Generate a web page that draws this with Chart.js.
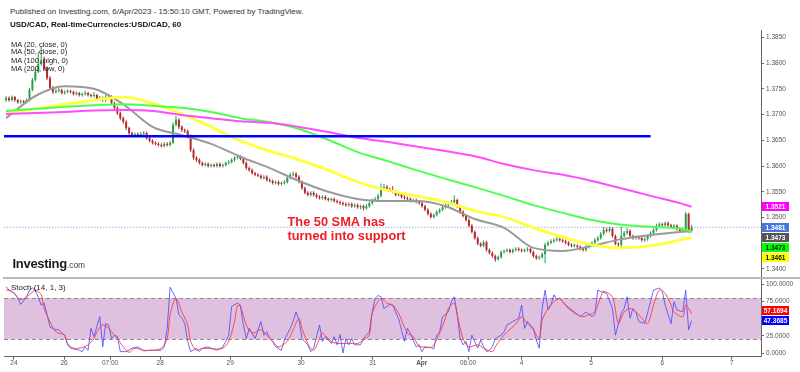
<!DOCTYPE html>
<html>
<head>
<meta charset="utf-8">
<script src="https://cdn.jsdelivr.net/npm/chart.js@4.4.0/dist/chart.umd.min.js"></script>
<style>
  html, body { margin: 0; padding: 0; background: #fff; }
  body { width: 800px; height: 372px; position: relative; overflow: hidden; font-family: "Liberation Sans", Arial, sans-serif; }
  .txt { position: absolute; white-space: nowrap; color: #222; }
  canvas { position: absolute; left: 0; }
  #main { top: 30px; }
  #stoch { top: 278px; }
  #sep { position: absolute; left: 3px; top: 277px; width: 797px; height: 2px; background: #b8b8b8; }
</style>
</head>
<body>
<canvas id="main" width="800" height="248"></canvas>
<canvas id="stoch" width="800" height="94"></canvas>
<div id="sep"></div>

<div class="txt" style="left:10px; top:6.5px; font-size:8px; line-height:10px; color:#333;">Published on Investing.com, 6/Apr/2023 - 15:50:10 GMT, Powered by TradingView.</div>
<div class="txt" style="left:10px; top:20px; font-size:8px; line-height:10px; font-weight:bold; color:#111;">USD/CAD, Real-timeCurrencies:USD/CAD, 60</div>

<div class="txt" style="left:11px; top:40.8px; font-size:7.5px; line-height:8px;">MA (20, close, 0)</div>
<div class="txt" style="left:11px; top:48.4px; font-size:7.5px; line-height:8px;">MA (50, close, 0)</div>
<div class="txt" style="left:11px; top:57px; font-size:7.5px; line-height:8px;">MA (100, high, 0)</div>
<div class="txt" style="left:11px; top:65px; font-size:7.5px; line-height:8px;">MA (200, low, 0)</div>

<div class="txt" style="left:287.5px; top:215px; font-size:12.8px; line-height:14.4px; font-weight:bold; color:#ee1c25;">The 50 SMA has<br>turned into support</div>

<div class="txt" style="left:12.5px; top:256.7px; font-size:13px; line-height:13px; font-weight:bold; color:#1a1a1a; letter-spacing:-0.3px;">Investing<span style="font-size:8.4px; font-weight:normal; color:#444; letter-spacing:0;">.com</span></div>

<div class="txt" style="left:11px; top:283px; font-size:8px; line-height:10px;">Stoch (14, 1, 3)</div>

<script>
// ---- hourly candles, Mar 24 - Apr 6 (bar index = hour slot) ----
const opens = [
  1.3728, 1.3732, 1.3728, 1.3734, 1.3728, 1.3724, 1.3726, 1.3724, 1.3728, 1.3748,
  1.3767, 1.3783, 1.3798, 1.3806, 1.3790, 1.3771, 1.3752, 1.3744, 1.3746, 1.3748,
  1.3742, 1.3744, 1.3746, 1.3744, 1.3740, 1.3742, 1.3738, 1.3740, 1.3742, 1.3738,
  1.3736, 1.3738, 1.3730, 1.3732, 1.3728, 1.3732, 1.3734, 1.3722, 1.3713, 1.3703,
  1.3693, 1.3686, 1.3674, 1.3664, 1.3660, 1.3662, 1.3660, 1.3662, 1.3664, 1.3654,
  1.3649, 1.3645, 1.3643, 1.3641, 1.3639, 1.3643, 1.3641, 1.3645, 1.3680, 1.3690,
  1.3676, 1.3670, 1.3668, 1.3658, 1.3631, 1.3616, 1.3612, 1.3606, 1.3602, 1.3604,
  1.3600, 1.3602, 1.3600, 1.3604, 1.3600, 1.3602, 1.3606, 1.3608, 1.3612, 1.3616,
  1.3618, 1.3614, 1.3606, 1.3596, 1.3592, 1.3586, 1.3583, 1.3581, 1.3577, 1.3579,
  1.3573, 1.3571, 1.3567, 1.3569, 1.3565, 1.3567, 1.3569, 1.3577, 1.3583, 1.3585,
  1.3579, 1.3569, 1.3557, 1.3548, 1.3544, 1.3548, 1.3544, 1.3540, 1.3538, 1.3540,
  1.3536, 1.3534, 1.3536, 1.3532, 1.3530, 1.3528, 1.3526, 1.3524, 1.3526, 1.3522,
  1.3524, 1.3520, 1.3522, 1.3518, 1.3522, 1.3528, 1.3534, 1.3536, 1.3542, 1.3557,
  1.3559, 1.3555, 1.3553, 1.3550, 1.3544, 1.3546, 1.3540, 1.3538, 1.3536, 1.3532,
  1.3534, 1.3530, 1.3528, 1.3522, 1.3515, 1.3507, 1.3501, 1.3505, 1.3511, 1.3515,
  1.3520, 1.3524, 1.3528, 1.3530, 1.3534, 1.3522, 1.3511, 1.3503, 1.3495, 1.3484,
  1.3472, 1.3460, 1.3449, 1.3445, 1.3452, 1.3437, 1.3431, 1.3425, 1.3419, 1.3423,
  1.3433, 1.3435, 1.3437, 1.3433, 1.3437, 1.3439, 1.3437, 1.3435, 1.3437, 1.3439,
  1.3433, 1.3425, 1.3421, 1.3423, 1.3429, 1.3447, 1.3451, 1.3454, 1.3456, 1.3458,
  1.3456, 1.3454, 1.3451, 1.3447, 1.3445, 1.3445, 1.3443, 1.3439, 1.3437, 1.3443,
  1.3447, 1.3451, 1.3456, 1.3460, 1.3468, 1.3476, 1.3474, 1.3478, 1.3464, 1.3449,
  1.3447, 1.3464, 1.3470, 1.3474, 1.3464, 1.3460, 1.3462, 1.3460, 1.3456, 1.3458,
  1.3464, 1.3470, 1.3476, 1.3484, 1.3487, 1.3485, 1.3489, 1.3485, 1.3482, 1.3484,
  1.3478, 1.3474, 1.3476, 1.3507, 1.3474
];
const highs = [
  1.3736, 1.3735, 1.3737, 1.3736, 1.3730, 1.3729, 1.3728, 1.3731, 1.3752, 1.3771,
  1.3790, 1.3822, 1.3832, 1.3812, 1.3794, 1.3775, 1.3756, 1.3750, 1.3752, 1.3750,
  1.3747, 1.3749, 1.3748, 1.3746, 1.3745, 1.3744, 1.3743, 1.3746, 1.3744, 1.3741,
  1.3744, 1.3740, 1.3736, 1.3735, 1.3738, 1.3740, 1.3737, 1.3725, 1.3716, 1.3706,
  1.3696, 1.3689, 1.3677, 1.3667, 1.3665, 1.3665, 1.3666, 1.3668, 1.3667, 1.3657,
  1.3652, 1.3648, 1.3646, 1.3644, 1.3646, 1.3646, 1.3649, 1.3685, 1.3697, 1.3693,
  1.3679, 1.3673, 1.3671, 1.3661, 1.3634, 1.3619, 1.3615, 1.3609, 1.3607, 1.3607,
  1.3605, 1.3605, 1.3607, 1.3607, 1.3605, 1.3609, 1.3611, 1.3615, 1.3619, 1.3622,
  1.3621, 1.3617, 1.3609, 1.3599, 1.3595, 1.3589, 1.3586, 1.3584, 1.3582, 1.3582,
  1.3576, 1.3574, 1.3572, 1.3572, 1.3570, 1.3573, 1.3580, 1.3587, 1.3589, 1.3588,
  1.3582, 1.3572, 1.3560, 1.3551, 1.3551, 1.3551, 1.3547, 1.3543, 1.3543, 1.3543,
  1.3539, 1.3539, 1.3539, 1.3535, 1.3533, 1.3531, 1.3529, 1.3529, 1.3529, 1.3527,
  1.3527, 1.3525, 1.3525, 1.3526, 1.3531, 1.3537, 1.3540, 1.3546, 1.3566, 1.3565,
  1.3563, 1.3558, 1.3561, 1.3553, 1.3550, 1.3549, 1.3543, 1.3541, 1.3539, 1.3537,
  1.3537, 1.3533, 1.3531, 1.3525, 1.3518, 1.3510, 1.3508, 1.3514, 1.3518, 1.3523,
  1.3527, 1.3531, 1.3534, 1.3543, 1.3537, 1.3525, 1.3514, 1.3506, 1.3498, 1.3487,
  1.3475, 1.3463, 1.3452, 1.3456, 1.3455, 1.3440, 1.3434, 1.3428, 1.3426, 1.3436,
  1.3438, 1.3440, 1.3440, 1.3440, 1.3442, 1.3442, 1.3440, 1.3440, 1.3442, 1.3442,
  1.3436, 1.3428, 1.3426, 1.3432, 1.3451, 1.3455, 1.3458, 1.3460, 1.3462, 1.3461,
  1.3459, 1.3457, 1.3454, 1.3450, 1.3449, 1.3448, 1.3446, 1.3442, 1.3446, 1.3450,
  1.3454, 1.3460, 1.3464, 1.3472, 1.3482, 1.3480, 1.3482, 1.3481, 1.3467, 1.3452,
  1.3482, 1.3474, 1.3480, 1.3477, 1.3467, 1.3465, 1.3465, 1.3463, 1.3461, 1.3467,
  1.3473, 1.3479, 1.3488, 1.3491, 1.3490, 1.3492, 1.3492, 1.3488, 1.3488, 1.3487,
  1.3481, 1.3480, 1.3511, 1.3509, 1.3486
];
const lows = [
  1.3725, 1.3725, 1.3726, 1.3725, 1.3721, 1.3721, 1.3720, 1.3722, 1.3726, 1.3745,
  1.3764, 1.3780, 1.3795, 1.3786, 1.3767, 1.3748, 1.3740, 1.3741, 1.3743, 1.3739,
  1.3739, 1.3741, 1.3741, 1.3737, 1.3737, 1.3735, 1.3735, 1.3737, 1.3735, 1.3733,
  1.3733, 1.3727, 1.3727, 1.3725, 1.3725, 1.3729, 1.3719, 1.3709, 1.3699, 1.3689,
  1.3682, 1.3670, 1.3660, 1.3657, 1.3657, 1.3657, 1.3657, 1.3659, 1.3651, 1.3646,
  1.3642, 1.3640, 1.3638, 1.3636, 1.3636, 1.3638, 1.3638, 1.3643, 1.3677, 1.3672,
  1.3666, 1.3664, 1.3654, 1.3627, 1.3612, 1.3608, 1.3603, 1.3599, 1.3599, 1.3597,
  1.3597, 1.3597, 1.3597, 1.3597, 1.3597, 1.3599, 1.3603, 1.3605, 1.3609, 1.3613,
  1.3611, 1.3603, 1.3593, 1.3589, 1.3583, 1.3580, 1.3578, 1.3574, 1.3574, 1.3570,
  1.3568, 1.3564, 1.3564, 1.3562, 1.3562, 1.3564, 1.3566, 1.3574, 1.3580, 1.3576,
  1.3566, 1.3554, 1.3545, 1.3541, 1.3541, 1.3541, 1.3537, 1.3535, 1.3535, 1.3533,
  1.3531, 1.3531, 1.3529, 1.3527, 1.3525, 1.3523, 1.3521, 1.3521, 1.3519, 1.3519,
  1.3517, 1.3516, 1.3514, 1.3515, 1.3519, 1.3525, 1.3531, 1.3533, 1.3539, 1.3553,
  1.3552, 1.3550, 1.3547, 1.3541, 1.3541, 1.3537, 1.3535, 1.3533, 1.3529, 1.3529,
  1.3527, 1.3525, 1.3519, 1.3512, 1.3504, 1.3498, 1.3498, 1.3502, 1.3508, 1.3512,
  1.3517, 1.3521, 1.3525, 1.3527, 1.3519, 1.3508, 1.3500, 1.3492, 1.3481, 1.3469,
  1.3457, 1.3446, 1.3442, 1.3442, 1.3434, 1.3428, 1.3422, 1.3414, 1.3416, 1.3420,
  1.3430, 1.3432, 1.3430, 1.3430, 1.3434, 1.3434, 1.3432, 1.3432, 1.3434, 1.3430,
  1.3422, 1.3418, 1.3418, 1.3420, 1.3411, 1.3444, 1.3448, 1.3451, 1.3453, 1.3453,
  1.3451, 1.3448, 1.3444, 1.3442, 1.3442, 1.3440, 1.3436, 1.3434, 1.3434, 1.3440,
  1.3444, 1.3448, 1.3453, 1.3457, 1.3465, 1.3471, 1.3471, 1.3461, 1.3446, 1.3442,
  1.3438, 1.3461, 1.3467, 1.3461, 1.3457, 1.3457, 1.3457, 1.3453, 1.3453, 1.3455,
  1.3461, 1.3467, 1.3473, 1.3481, 1.3482, 1.3482, 1.3482, 1.3479, 1.3479, 1.3475,
  1.3470, 1.3471, 1.3473, 1.3471, 1.3471
];
const closes = [
  1.3732, 1.3728, 1.3734, 1.3728, 1.3724, 1.3726, 1.3724, 1.3728, 1.3748, 1.3767,
  1.3783, 1.3798, 1.3806, 1.3790, 1.3771, 1.3752, 1.3744, 1.3746, 1.3748, 1.3742,
  1.3744, 1.3746, 1.3744, 1.3740, 1.3742, 1.3738, 1.3740, 1.3742, 1.3738, 1.3736,
  1.3738, 1.3730, 1.3732, 1.3728, 1.3732, 1.3734, 1.3722, 1.3713, 1.3703, 1.3693,
  1.3686, 1.3674, 1.3664, 1.3660, 1.3662, 1.3660, 1.3662, 1.3664, 1.3654, 1.3649,
  1.3645, 1.3643, 1.3641, 1.3639, 1.3643, 1.3641, 1.3645, 1.3680, 1.3690, 1.3676,
  1.3670, 1.3668, 1.3658, 1.3631, 1.3616, 1.3612, 1.3606, 1.3602, 1.3604, 1.3600,
  1.3602, 1.3600, 1.3604, 1.3600, 1.3602, 1.3606, 1.3608, 1.3612, 1.3616, 1.3618,
  1.3614, 1.3606, 1.3596, 1.3592, 1.3586, 1.3583, 1.3581, 1.3577, 1.3579, 1.3573,
  1.3571, 1.3567, 1.3569, 1.3565, 1.3567, 1.3569, 1.3577, 1.3583, 1.3585, 1.3579,
  1.3569, 1.3557, 1.3548, 1.3544, 1.3548, 1.3544, 1.3540, 1.3538, 1.3540, 1.3536,
  1.3534, 1.3536, 1.3532, 1.3530, 1.3528, 1.3526, 1.3524, 1.3526, 1.3522, 1.3524,
  1.3520, 1.3522, 1.3518, 1.3522, 1.3528, 1.3534, 1.3536, 1.3542, 1.3557, 1.3559,
  1.3555, 1.3553, 1.3550, 1.3544, 1.3546, 1.3540, 1.3538, 1.3536, 1.3532, 1.3534,
  1.3530, 1.3528, 1.3522, 1.3515, 1.3507, 1.3501, 1.3505, 1.3511, 1.3515, 1.3520,
  1.3524, 1.3528, 1.3530, 1.3534, 1.3522, 1.3511, 1.3503, 1.3495, 1.3484, 1.3472,
  1.3460, 1.3449, 1.3445, 1.3452, 1.3437, 1.3431, 1.3425, 1.3419, 1.3423, 1.3433,
  1.3435, 1.3437, 1.3433, 1.3437, 1.3439, 1.3437, 1.3435, 1.3437, 1.3439, 1.3433,
  1.3425, 1.3421, 1.3423, 1.3429, 1.3447, 1.3451, 1.3454, 1.3456, 1.3458, 1.3456,
  1.3454, 1.3451, 1.3447, 1.3445, 1.3445, 1.3443, 1.3439, 1.3437, 1.3443, 1.3447,
  1.3451, 1.3456, 1.3460, 1.3468, 1.3476, 1.3474, 1.3478, 1.3464, 1.3449, 1.3447,
  1.3464, 1.3470, 1.3474, 1.3464, 1.3460, 1.3462, 1.3460, 1.3456, 1.3458, 1.3464,
  1.3470, 1.3476, 1.3484, 1.3487, 1.3485, 1.3489, 1.3485, 1.3482, 1.3484, 1.3478,
  1.3474, 1.3476, 1.3507, 1.3474, 1.3481
];

// ---- moving averages, read every 10 bars ----
const maIdx  = [0, 10, 20, 30, 40, 50, 60, 70, 80, 90, 100, 110, 120, 130, 140, 150, 160, 170, 180, 190, 200, 210, 220, 230, 234];
const ma20  = [1.3693, 1.3736, 1.3755, 1.3750, 1.3720, 1.3676, 1.3660, 1.3643, 1.3618, 1.3596, 1.3571, 1.3550, 1.3536, 1.3532, 1.3532, 1.3522, 1.3497, 1.3480, 1.3441, 1.3435, 1.3445, 1.3458, 1.3466, 1.3472, 1.3473];
const ma50  = [1.3703, 1.3711, 1.3720, 1.3728, 1.3734, 1.3722, 1.3701, 1.3676, 1.3649, 1.3629, 1.3612, 1.3592, 1.3569, 1.3553, 1.3542, 1.3530, 1.3513, 1.3501, 1.3480, 1.3462, 1.3447, 1.3441, 1.3445, 1.3456, 1.3461];
const ma100 = [1.3707, 1.3711, 1.3715, 1.3718, 1.3720, 1.3717, 1.3713, 1.3705, 1.3693, 1.3685, 1.3672, 1.3651, 1.3627, 1.3610, 1.3592, 1.3575, 1.3559, 1.3542, 1.3524, 1.3509, 1.3495, 1.3486, 1.3482, 1.3478, 1.3473];
const ma200 = [1.3701, 1.3703, 1.3705, 1.3708, 1.3709, 1.3707, 1.3699, 1.3693, 1.3687, 1.3684, 1.3676, 1.3666, 1.3655, 1.3647, 1.3638, 1.3629, 1.3619, 1.3604, 1.3592, 1.3583, 1.3571, 1.3557, 1.3542, 1.3528, 1.3521];

// horizontal level drawn on the chart
const supportLevel = 1.3658;
const supportFrom = -0.7;
const supportTo = 220;

// ---- stochastic (14,1,3) ----
const kIdx = [0,1,3,4,5,7,8,9,10,12, 13,14,15,17,18,20,21,22,25,26, 27,28,29,30,32,33,34,35,36,37, 38,39,41,43,45,47,49,51,53,54,
  55,56,58,59,60,61,62,63,65,66, 67,69,70,72,74,75,76,77,79,80, 81,82,83,84,85,87,88,89,90,91, 92,94,95,97,98,99,100,101,103,104,
  105,107,108,109,111,112,113,114,115,116, 117,118,119,121,122,124,125,126,127,128, 129,131,132,133,134,136,137,138,140,141,
  142,143,145,146,147,148,149,151,152,153, 154,155,156,157,158,159,161,162,163,164, 165,166,167,169,170,171,173,175,176,177,
  178,180,181,182,183,184,185,186,187,188, 189,191,194,196,198,200,201,202,203,205, 207,208,210,211,212,213,214,215,216,218,
  220,221,223,224,225,227,228,229,231,232, 233,234];
const kVal = [97,92,87,80,71,82,92,95,92,70, 73,56,38,34,34,26,12,7,4,2, 9,4,36,24,53,9,43,41,21,26, 24,2,2,7,9,3,4,4,4,9,
  36,96,80,56,51,43,17,2,7,2, 7,9,7,4,9,17,26,68,73,70, 41,21,36,29,21,46,26,31,21,17, 9,4,19,36,46,60,48,21,12,2,
  7,41,17,24,14,24,12,27,0,21, 12,21,12,12,21,31,60,80,84,82, 65,71,70,60,50,17,36,29,9,12,
  2,9,8,6,26,31,53,60,75,82, 56,21,12,17,2,26,7,19,9,2, 4,9,21,26,31,41,46,51,70,36,
  46,36,19,7,65,92,63,70,85,78, 80,70,60,53,60,53,56,92,90,87, 65,26,58,65,82,51,65,60,46,43,
  75,92,95,90,70,43,75,63,60,92, 34,47.3685];
const dIdx = [0,2,5,8,10,12,13,15,17,20, 21,23,26,28,30,31,33,35,37,38, 40,42,44,47,50,53,55,56,58,60,
  62,63,65,67,71,74,76,78,79,80, 82,84,87,89,91,93,96,98,100,101, 103,105,107,108,111,113,115,117,120,122,
  124,125,128,130,132,134,137,139,141,142, 145,146,148,150,151,153,154,156,158,161, 163,166,167,169,171,173,175,176,178,180,
  182,183,185,187,189,190,192,195,197,199, 201,203,204,207,209,211,213,215,217,219, 221,223,225,227,228,231,232,233,234];
const dVal = [92,90,78,85,92,85,65,46,31,26, 14,7,8,12,21,31,41,36,26,21, 9,1,7,4,4,7,21,56,80,60,
  41,17,4,7,6,7,17,46,69,68, 41,29,34,26,17,9,17,34,51,36, 14,4,21,29,17,14,14,14,14,19,
  26,58,80,73,70,58,29,24,9,9, 8,12,29,51,65,73,56,21,9,12, 7,2,9,21,31,38,48,53,43,34,
  21,48,65,75,80,75,65,56,53,56, 60,82,90,82,43,60,65,60,51,43, 70,92,87,70,60,53,70,65,57.1694];
const bandLow = 20, bandHigh = 80;

// ---- axes ----
const tickIdx = [2.7, 19.8, 35.5, 52.6, 76.5, 100.7, 125.2, 141.9, 157.7, 176.0, 199.7, 224.0, 247.7];
const tickLabels = ['24', '26', '07:00', '28', '29', '30', '31', 'Apr', '06:00', '4', '5', '6', '7'];
const priceTicks = [1.3400, 1.3500, 1.3550, 1.3600, 1.3650, 1.3700, 1.3750, 1.3800, 1.3850];
const stochTicks = [0, 25, 75, 100];
const xMin = -0.7, xMax = 257.7;

Chart.defaults.font.family = '"Liberation Sans", Arial, sans-serif';

const upColor = '#2f9c4c';
const downColor = '#b52a2c';
const candleColors = closes.map((c, i) => c >= opens[i] ? upColor : downColor);
const lastClose = closes[closes.length - 1];

function last(arr) { return arr[arr.length - 1]; }

// price tags on the right axis, stacked away from the anchor tag like TradingView
function drawTags(chart, tags, anchorIdx) {
  const ys = chart.scales.y;
  const ctx = chart.ctx;
  const step = 10;
  const items = tags.map(t => Object.assign({}, t, { py: ys.getPixelForValue(t.value) }));
  const anchor = items[anchorIdx];
  const above = items.filter((t, k) => k !== anchorIdx && t.py < anchor.py).sort((a, b) => b.py - a.py);
  const below = items.filter((t, k) => k !== anchorIdx && t.py >= anchor.py).sort((a, b) => a.py - b.py);
  let prev = anchor.py;
  above.forEach(t => { t.py = Math.min(t.py, prev - step); prev = t.py; });
  prev = anchor.py;
  below.forEach(t => { t.py = Math.max(t.py, prev + step); prev = t.py; });
  const x = chart.chartArea.right + 1;
  ctx.save();
  ctx.font = 'bold 6.5px "Liberation Sans", Arial, sans-serif';
  ctx.textAlign = 'center';
  ctx.textBaseline = 'middle';
  items.forEach(t => {
    ctx.fillStyle = t.bg;
    ctx.fillRect(x, Math.round(t.py - 4.5), 27, 9);
    ctx.fillStyle = t.fg;
    ctx.fillText(t.text, x + 13.5, t.py + 0.5);
  });
  ctx.restore();
}

function fixedY(width) {
  return function (s) { s.width = width; s.paddingTop = 0; s.paddingBottom = 0; };
}

function maLine(vals, color, width, order) {
  return {
    type: 'line',
    data: maIdx.map((x, k) => ({ x: x, y: vals[k] })),
    borderColor: color,
    borderWidth: width,
    pointRadius: 0,
    cubicInterpolationMode: 'monotone',
    order: order
  };
}

// --- main price panel ---
new Chart(document.getElementById('main'), {
  type: 'bar',
  data: {
    datasets: [
      {
        type: 'line',
        data: [{ x: xMin, y: lastClose }, { x: xMax, y: lastClose }],
        borderColor: '#9db3ea', borderWidth: 1, borderDash: [1.5, 1.5], pointRadius: 0, order: 20
      },
      {
        data: closes.map((c, i) => ({ x: i, y: [lows[i], highs[i]] })),
        backgroundColor: candleColors, barThickness: 1, grouped: false, inflateAmount: 0, order: 12
      },
      {
        data: closes.map((c, i) => ({ x: i, y: [opens[i], c] })),
        backgroundColor: candleColors, barThickness: 2, minBarLength: 1, grouped: false, inflateAmount: 0, order: 11
      },
      maLine(ma20, '#9a9a9a', 2, 4),
      maLine(ma50, '#ffff3c', 2.8, 3),
      maLine(ma100, '#4cff4c', 2, 2),
      maLine(ma200, '#ff4cff', 2, 1),
      {
        type: 'line',
        data: [{ x: supportFrom, y: supportLevel }, { x: supportTo, y: supportLevel }],
        borderColor: '#0000ff', borderWidth: 2.5, pointRadius: 0, order: 0
      }
    ]
  },
  options: {
    responsive: false,
    animation: false,
    events: [],
    layout: { padding: { left: 4, right: 0, top: 0, bottom: 0 } },
    plugins: { legend: { display: false }, tooltip: { enabled: false } },
    scales: {
      x: { type: 'linear', min: xMin, max: xMax, offset: false, display: false },
      y: {
        position: 'right',
        min: 1.33825,
        max: 1.38642,
        afterFit: fixedY(39),
        afterBuildTicks: s => { s.ticks = priceTicks.map(v => ({ value: v })); },
        ticks: { font: { size: 6.5 }, color: '#555', padding: 2, callback: v => v.toFixed(4) },
        grid: { drawOnChartArea: false, drawTicks: true, tickLength: 3, color: '#666' },
        border: { color: '#666' }
      }
    }
  },
  plugins: [{
    id: 'priceTags',
    afterDraw(chart) {
      drawTags(chart, [
        { value: last(ma200), text: last(ma200).toFixed(4), bg: '#ff00ff', fg: '#fff' },
        { value: lastClose, text: lastClose.toFixed(4), bg: '#4a76dc', fg: '#fff' },
        { value: last(ma20), text: last(ma20).toFixed(4), bg: '#555555', fg: '#fff' },
        { value: last(ma100), text: last(ma100).toFixed(4), bg: '#00ff00', fg: '#111' },
        { value: last(ma50), text: last(ma50).toFixed(4), bg: '#ffff00', fg: '#111' }
      ], 1);
    }
  }]
});

// --- stochastic panel ---
new Chart(document.getElementById('stoch'), {
  type: 'line',
  data: {
    datasets: [
      {
        data: dIdx.map((x, k) => ({ x: x, y: dVal[k] })),
        borderColor: 'rgba(255,60,60,0.9)', borderWidth: 1, pointRadius: 0, tension: 0.3
      },
      {
        data: kIdx.map((x, k) => ({ x: x, y: kVal[k] })),
        borderColor: 'rgba(70,70,255,0.8)', borderWidth: 1, pointRadius: 0, tension: 0
      }
    ]
  },
  options: {
    responsive: false,
    animation: false,
    events: [],
    layout: { padding: { left: 4, right: 0, top: 0, bottom: 0 } },
    plugins: { legend: { display: false }, tooltip: { enabled: false } },
    scales: {
      x: {
        type: 'linear', min: xMin, max: xMax, offset: false,
        afterFit: s => { s.height = 15.3; s.paddingLeft = 0; s.paddingRight = 0; },
        afterBuildTicks: s => { s.ticks = tickIdx.map(v => ({ value: v })); },
        ticks: {
          autoSkip: false, maxRotation: 0, padding: 0, color: '#555',
          font: c => ({ size: 6.5, weight: tickLabels[c.index] === 'Apr' ? 'bold' : 'normal' }),
          callback: (v, i) => tickLabels[i]
        },
        grid: { drawOnChartArea: false, drawTicks: true, tickLength: 3, color: '#666' },
        border: { color: '#666' }
      },
      y: {
        position: 'right',
        min: -5.4,
        max: 109.6,
        afterFit: fixedY(39),
        afterBuildTicks: s => { s.ticks = stochTicks.map(v => ({ value: v })); },
        ticks: { font: { size: 6.5 }, color: '#555', padding: 2, callback: v => v.toFixed(4) },
        grid: { drawOnChartArea: false, drawTicks: true, tickLength: 3, color: '#666' },
        border: { color: '#666' }
      }
    }
  },
  plugins: [{
    id: 'band',
    beforeDatasetsDraw(chart) {
      const a = chart.chartArea;
      const y = chart.scales.y;
      const top = y.getPixelForValue(bandHigh);
      const bot = y.getPixelForValue(bandLow);
      const ctx = chart.ctx;
      ctx.save();
      ctx.fillStyle = '#dfc1df';
      ctx.fillRect(a.left, top, a.right - a.left, bot - top);
      ctx.strokeStyle = '#8a8a8a';
      ctx.lineWidth = 1;
      ctx.setLineDash([4, 3]);
      [top, bot].forEach(py => {
        ctx.beginPath();
        ctx.moveTo(a.left, Math.round(py) + 0.5);
        ctx.lineTo(a.right, Math.round(py) + 0.5);
        ctx.stroke();
      });
      ctx.restore();
    },
    afterDraw(chart) {
      drawTags(chart, [
        { value: last(dVal), text: last(dVal).toFixed(4), bg: '#ff0000', fg: '#fff' },
        { value: last(kVal), text: last(kVal).toFixed(4), bg: '#0000ff', fg: '#fff' }
      ], 1);
    }
  }]
});
</script>
</body>
</html>
